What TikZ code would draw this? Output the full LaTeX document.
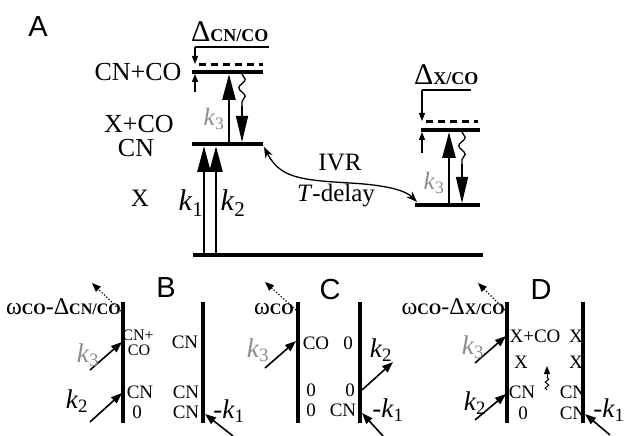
\documentclass[tikz,border=0pt]{standalone}
\usepackage{fontspec}
\setmainfont{Liberation Serif}
\newfontfamily\lsans{Liberation Sans}
\usetikzlibrary{arrows.meta,decorations.pathmorphing}
\definecolor{kgray}{RGB}{140,140,140}
\newcommand{\fsz}[1]{\fontsize{#1}{#1}\selectfont}
\newcommand{\kl}[1]{\textit{k}\textsubscript{#1}}
\begin{document}
\begin{tikzpicture}[x=1pt,y=-1pt,
  level/.style={line width=3.3pt},
  dashlevel/.style={line width=3pt,dash pattern=on 7pt off 5pt},
  bigarrow/.style={line width=2.7pt,-{Triangle[length=26pt,width=13pt]}},
  thinbig/.style={line width=1.4pt,-{Triangle[length=26pt,width=12pt]}},
  smallarrow/.style={line width=1.2pt,-{Triangle[length=8pt,width=6pt]}},
  panel/.style={line width=3.3pt},
  inarrow/.style={line width=1.6pt,-{Triangle[length=11pt,width=8pt]}},
  dotarrow/.style={line width=1.2pt,dash pattern=on 1.2pt off 2pt,-{Triangle[length=9pt,width=7pt]}},
  wavy/.style={line width=1.3pt,decorate,decoration={snake,amplitude=3.2pt,segment length=17pt}},
  ivr/.style={line width=1.3pt,{Stealth[length=11pt,width=8pt]}-{Stealth[length=11pt,width=8pt]}},
  big/.style={font=\fsz{26},inner sep=0pt},
  ptxt/.style={font=\fsz{19},inner sep=0pt},
  letter/.style={font=\lsans\fsz{29},inner sep=0pt},
  klab/.style={font=\fsz{30},inner sep=0pt},
  kbot/.style={font=\fsz{27},inner sep=0pt},
  grayk/.style={text=kgray}]
\useasboundingbox (0,0) rectangle (625,436);
\fill[white] (0,0) rectangle (625,436);

% ---------- Panel A ----------
\node[letter] (lA) at (38,27) {A};
\node[big] (tCNCO) at (138,72) {CN+CO};
\node[big] (tXCO) at (139,124) {X+CO};
\node[big] (tCN) at (136,148) {CN};
\node[font=\fsz{25},inner sep=0pt] (tX) at (140,198) {X};

% levels
\coordinate (g0) at (193,255); \coordinate (g1) at (483,255);
\coordinate (m0) at (192,144); \coordinate (m1) at (263,144);
\coordinate (u0) at (192,72);  \coordinate (u1) at (263,72);
\draw[level] (g0) -- (g1);
\draw[level] (m0) -- (m1);
\draw[level] (u0) -- (u1);
\draw[dashlevel] (199,65) -- (263,65);

% Delta CN/CO
\node[inner sep=0pt,anchor=base west] (dA) at (191,42) {\fsz{30}Δ{\fsz{18}\bfseries CN/CO}};
\coordinate (dAc) at (195,47);
\draw[line width=1.2pt] (269,47) -- (dAc);
\draw[smallarrow] (dAc) -- (195,64);
\draw[smallarrow] (195,92) -- (195,74);

% k1 k2 k3
\draw[bigarrow] (204,255) -- (204,146);
\draw[bigarrow] (216,255) -- (216,146);
\node[klab] (k1A) at (191,203) {\kl{1}};
\node[klab] (k2A) at (233,203) {\kl{2}};
\draw[bigarrow] (229,143) -- (229,74);
\node[grayk,font=\fsz{25},inner sep=0pt] (k3A) at (214,119) {\kl{3}};
\draw[wavy] (242,74) -- (242,108);
\draw[thinbig] (242,106) -- (242,142);

% right levels
\coordinate (r0) at (415,205); \coordinate (r1) at (480,205);
\coordinate (s0) at (421,130); \coordinate (s1) at (480,130);
\draw[level] (r0) -- (r1);
\draw[level] (s0) -- (s1);
\draw[dashlevel] (426,122) -- (478,122);
\node[inner sep=0pt,anchor=base west] (dB) at (414,85) {\fsz{30}Δ{\fsz{18}\bfseries X/CO}};
\coordinate (dBc) at (422,90);
\draw[line width=1.2pt] (471,90) -- (dBc);
\draw[smallarrow] (dBc) -- (422,121);
\draw[smallarrow] (422,153) -- (422,132);
\draw[bigarrow] (449,204) -- (449,132);
\node[grayk,font=\fsz{25},inner sep=0pt] (k3R) at (434,183) {\kl{3}};
\draw[wavy] (462,132) -- (462,166);
\draw[thinbig] (462,164) -- (462,203);

% IVR curve
\node[font=\fsz{25},inner sep=0pt] (tIVR) at (340,163) {IVR};
\node[font=\fsz{25},inner sep=0pt] (tTd) at (336,196) {\textit{T}-delay};
\draw[ivr] (264,147) .. controls (280,178) and (300,180) .. (350,183) .. controls (385,185) and (405,190) .. (417,202);

% ---------- Panel B ----------
\node[letter] (lB) at (166,288) {B};
\draw[panel] (123,302) -- (123,423);
\draw[panel] (203,302) -- (203,423);
\node[font=\fsz{16},inner sep=0pt] (bCNp) at (138,335) {CN+};
\node[font=\fsz{16},inner sep=0pt] (bCO) at (139,350) {CO};
\node[ptxt] (bCN1) at (185,342) {CN};
\node[ptxt] (bCN2) at (140,392) {CN};
\node[ptxt] (b0) at (137,412) {0};
\node[ptxt] (bCN3) at (186,392) {CN};
\node[ptxt] (bCN4) at (186,412) {CN};
\draw[inarrow] (90,370) -- (122,342);
\draw[inarrow] (90,422) -- (122,393);
\draw[inarrow] (233,436) -- (205,414);
\node[kbot,grayk] (k3B) at (88,355) {\kl{3}};
\node[kbot] (k2B) at (77,401) {\kl{2}};
\node[kbot] (k1B) at (229,411) {-\kl{1}};
\node[inner sep=0pt,anchor=base east] (wB) at (121,314) {\fsz{24}ω{\fsz{16}\bfseries CO}-Δ{\fsz{16}\bfseries CN/CO}};
\draw[dotarrow] (121,311) -- (92,283);

% ---------- Panel C ----------
\node[letter] (lC) at (330,290) {C};
\draw[panel] (298,302) -- (298,423);
\draw[panel] (360,302) -- (360,423);
\node[ptxt] (cCO) at (316,343) {CO};
\node[ptxt] (c01) at (348,343) {0};
\node[ptxt] (c02) at (311,390) {0};
\node[ptxt] (c03) at (350,390) {0};
\node[ptxt] (c04) at (311,410) {0};
\node[ptxt] (cCN) at (343,410) {CN};
\draw[inarrow] (265,368) -- (296,341);
\node[kbot,grayk] (k3C) at (258,350) {\kl{3}};
\draw[inarrow] (362,390) -- (393,362);
\node[kbot] (k2C) at (381,350) {\kl{2}};
\draw[inarrow] (383,436) -- (362,413);
\node[kbot] (k1C) at (388,410) {-\kl{1}};
\node[inner sep=0pt,anchor=base east] (wC) at (294,314) {\fsz{24}ω{\fsz{16}\bfseries CO}};
\draw[dotarrow] (296,310) -- (265,282);

% ---------- Panel D ----------
\node[letter] (lD) at (541,290) {D};
\draw[panel] (507,302) -- (507,423);
\draw[panel] (583,302) -- (583,423);
\node[ptxt] (dXCO) at (535,336) {X+CO};
\node[ptxt] (dX1) at (576,336) {X};
\node[ptxt] (dX2) at (521,362) {X};
\node[ptxt] (dX3) at (576,362) {X};
\node[ptxt] (dCN1) at (522,392) {CN};
\node[ptxt] (dCN2) at (573,392) {CN};
\node[ptxt] (d0) at (523,413) {0};
\node[ptxt] (dCN3) at (573,413) {CN};
\draw[line width=1pt,decorate,decoration={snake,amplitude=1.8pt,segment length=6pt}] (547,390) -- (547,377);
\draw[line width=1pt,-{Triangle[length=8pt,width=6pt]}] (547,378) -- (547,366);
\draw[inarrow] (475,363) -- (506,336);
\node[kbot,grayk] (k3D) at (473,347) {\kl{3}};
\draw[inarrow] (475,420) -- (506,394);
\node[kbot] (k2D) at (475,403) {\kl{2}};
\draw[inarrow] (610,435) -- (585,414);
\node[kbot] (k1D) at (609,410) {-\kl{1}};
\node[inner sep=0pt,anchor=base east] (wD) at (505,314) {\fsz{24}ω{\fsz{16}\bfseries CO}-Δ{\fsz{16}\bfseries X/CO}};
\draw[dotarrow] (505,310) -- (478,283);
\end{tikzpicture}
\end{document}
